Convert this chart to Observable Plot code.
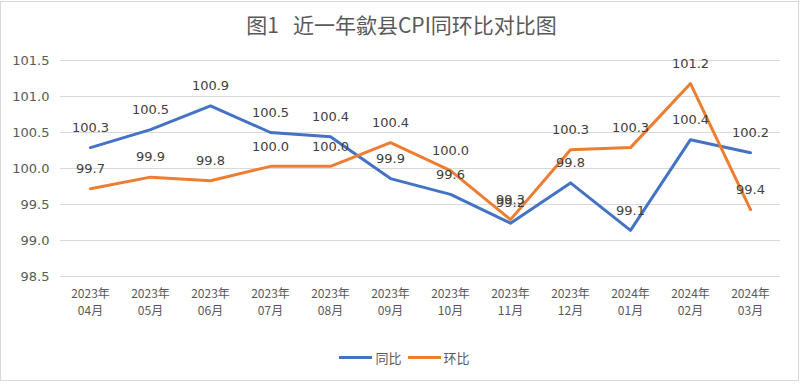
<!DOCTYPE html>
<html><head><meta charset="utf-8">
<script src="https://cdn.jsdelivr.net/npm/d3@7"></script>
<script src="https://cdn.jsdelivr.net/npm/@observablehq/plot@0.6"></script>
<style>
html,body{margin:0;padding:0;background:#fff;}
#frame{position:absolute;left:0;top:1px;width:799px;height:380px;border:1px solid #d9d9d9;box-sizing:border-box;}
#title{position:absolute;left:0;top:10px;width:803px;text-align:center;font:21px "Noto Sans CJK SC",sans-serif;color:#595959;line-height:28px;}
#chart{position:absolute;left:0;top:44px;}
#legend{position:absolute;left:0;top:348px;width:803px;display:flex;justify-content:center;align-items:center;font:13px "Noto Sans CJK SC",sans-serif;color:#595959;}
.sw{display:inline-block;width:33px;height:3px;margin:0 3px 0 6px;}
</style></head>
<body>
<div id="frame"></div>
<div id="title">图1&nbsp;&nbsp;&nbsp;近一年歙县CPI同环比对比图</div>
<div id="chart"></div>
<div id="legend"><span class="sw" style="background:#4472C4"></span>同比<span class="sw" style="background:#ED7D31"></span>环比</div>
<script>
const months = ["2023年\n04月","2023年\n05月","2023年\n06月","2023年\n07月","2023年\n08月","2023年\n09月","2023年\n10月","2023年\n11月","2023年\n12月","2024年\n01月","2024年\n02月","2024年\n03月"];
const yoy = [100.29,100.54,100.87,100.50,100.44,99.86,99.64,99.24,99.80,99.14,100.40,100.22];
const mom = [99.72,99.88,99.83,100.03,100.03,100.36,99.97,99.29,100.26,100.29,101.18,99.43];
const yTicks = [98.5,99.0,99.5,100.0,100.5,101.0,101.5];

const rows = [];
months.forEach((m,i)=>{
  rows.push({m, v: yoy[i], s: "同比"});
  rows.push({m, v: mom[i], s: "环比"});
});

const chart = Plot.plot({
  width: 803,
  height: 286,
  marginTop: 16,
  marginBottom: 54,
  marginLeft: 60,
  marginRight: 23,
  style: {fontFamily: "DejaVu Sans", background: "transparent"},
  x: {type: "band", domain: months, padding: 0},
  y: {domain: [98.5, 101.5]},
  color: {domain: ["同比","环比"], range: ["#4472C4","#ED7D31"]},
  marks: [
    Plot.gridY(yTicks, {stroke: "#d9d9d9", strokeOpacity: 1, strokeWidth: 1.2}),
    Plot.axisY(yTicks, {tickSize: 0, tickPadding: 11, tickFormat: d => d.toFixed(1), fontSize: 13, fill: "#595959", label: null}),
    Plot.axisX({tickSize: 0, tickPadding: 10, fontSize: 12, fill: "#595959", fontFamily: "Noto Sans CJK SC", lineHeight: 1.4, label: null}),
    Plot.line(rows, {x: "m", y: "v", z: "s", stroke: "s", strokeWidth: 3, strokeLinejoin: "round"}),
    Plot.text(rows, {x: "m", y: "v", text: d => d.v.toFixed(1), dy: -20, fontSize: 13, fill: "#404040"})
  ]
});
document.getElementById("chart").appendChild(chart);
</script>
</body></html>
